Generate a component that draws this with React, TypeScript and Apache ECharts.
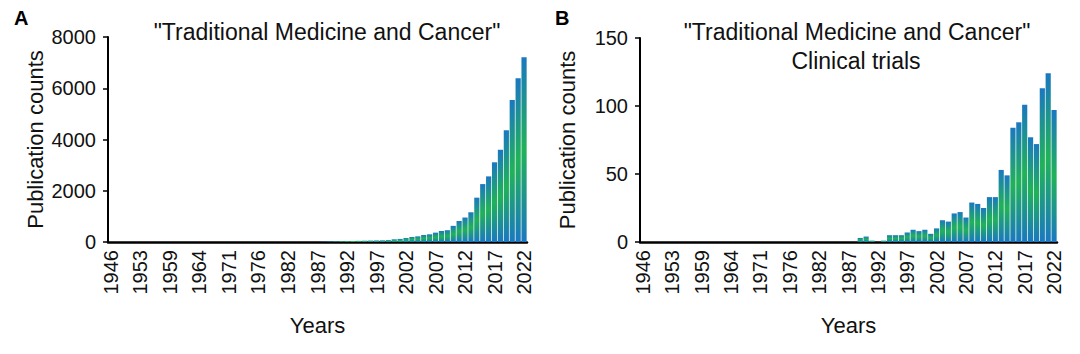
import React, { useEffect, useRef } from "react";
import * as echarts from "echarts";

const years: string[] = [
  "1946", "1947", "1948", "1950", "1951", "1953", "1954", "1955", "1956", "1958",
  "1959", "1960", "1961", "1962", "1963", "1964", "1965", "1966", "1968", "1969",
  "1971", "1972", "1973", "1974", "1975", "1976", "1977", "1978", "1979", "1981",
  "1982", "1983", "1984", "1985", "1986", "1987", "1988", "1989", "1990", "1991",
  "1992", "1993", "1994", "1995", "1996", "1997", "1998", "1999", "2000", "2001",
  "2002", "2003", "2004", "2005", "2006", "2007", "2008", "2009", "2010", "2011",
  "2012", "2013", "2014", "2015", "2016", "2017", "2018", "2019", "2020", "2021",
  "2022",
];

// Panel A: all publications (1946–1987 all zero)
const earlyZeros: number[] = [
  0, 0, 0, 0, 0, 0, 0, 0, 0, 0,
  0, 0, 0, 0, 0, 0, 0, 0, 0, 0,
  0, 0, 0, 0, 0, 0, 0, 0, 0, 0,
  0, 0, 0, 0, 0, 0,
];
const pubsFrom1988: number[] = [
  10, 20, 25, 30, 35, 40, 45, 50, 55, 60,
  65, 75, 105, 120, 155, 195, 220, 275, 300, 365,
  430, 460, 630, 820, 955, 1160, 1730, 2260, 2560, 3110,
  3600, 4360, 5540, 6390, 7210,
];
const publications: number[] = [...earlyZeros, ...pubsFrom1988];

// Panel B: clinical trials
const trialsFrom1988: number[] = [
  0, 3, 4, 1, 0, 1, 5, 5, 5, 7,
  9, 8, 9, 6, 10, 16, 15, 21, 22, 18,
  29, 28, 25, 33, 33, 53, 49, 84, 88, 101,
  77, 72, 113, 124, 97,
];
const clinicalTrials: number[] = [...earlyZeros, ...trialsFrom1988];

const yTicksA = { min: 0, max: 8000, interval: 2000 };
const yTicksB = { min: 0, max: 150, interval: 50 };

const FONT = "'Liberation Sans', Arial, Helvetica, sans-serif";
const TXT = "#111";

const barGradient = new echarts.graphic.LinearGradient(0, 0, 0, 1, [
  { offset: 0, color: "#1a78c0" },
  { offset: 0.5, color: "#21b258" },
  { offset: 1, color: "#1a78c0" },
]);

function makeXAxis(gridIndex: number) {
  return {
    type: "category",
    gridIndex,
    data: years,
    boundaryGap: true,
    name: "Years",
    nameLocation: "middle",
    nameGap: 72,
    nameTextStyle: { fontFamily: FONT, fontSize: 22, color: TXT },
    axisLine: { show: true, lineStyle: { color: "#000", width: 2.5 } },
    axisTick: { show: false },
    axisLabel: {
      interval: 4,
      rotate: 90,
      margin: 8,
      fontFamily: FONT,
      fontSize: 20,
      color: TXT,
    },
    splitLine: { show: false },
  };
}

function makeYAxis(gridIndex: number, t: { min: number; max: number; interval: number }) {
  return {
    type: "value",
    gridIndex,
    min: t.min,
    max: t.max,
    interval: t.interval,
    name: "Publication counts",
    nameLocation: "middle",
    nameGap: 62,
    nameTextStyle: { fontFamily: FONT, fontSize: 22, color: TXT },
    axisLine: { show: true, lineStyle: { color: "#000", width: 2 } },
    axisTick: { show: true, length: 5, lineStyle: { color: "#000", width: 1.5 } },
    axisLabel: {
      fontFamily: FONT,
      fontSize: 20,
      color: TXT,
      margin: 12,
      formatter: (v: number) => String(v),
    },
    splitLine: { show: false },
  };
}

function makeSeries(idx: number, data: number[]) {
  return {
    type: "bar",
    xAxisIndex: idx,
    yAxisIndex: idx,
    data,
    barCategoryGap: "12%",
    itemStyle: {
      color: barGradient,
    },
  };
}

export default function App() {
  const ref = useRef<HTMLDivElement>(null);
  useEffect(() => {
    if (!ref.current) return;
    const chart = echarts.init(ref.current, undefined, { renderer: "svg" });
    chart.setOption({
      animation: false,
      backgroundColor: "#fff",
      grid: [
        { left: 108, top: 37, width: 419, height: 205 },
        { left: 640, top: 38, width: 417, height: 204 },
      ],
      xAxis: [makeXAxis(0), makeXAxis(1)],
      yAxis: [makeYAxis(0, yTicksA), makeYAxis(1, yTicksB)],
      series: [makeSeries(0, publications), makeSeries(1, clinicalTrials)],
      graphic: [
        {
          type: "text",
          x: 14,
          y: 18,
          style: { text: "A", fontFamily: FONT, fontSize: 20, fontWeight: "bold", fill: "#000", textAlign: "left", textVerticalAlign: "middle" },
        },
        {
          type: "text",
          x: 555,
          y: 18,
          style: { text: "B", fontFamily: FONT, fontSize: 20, fontWeight: "bold", fill: "#000", textAlign: "left", textVerticalAlign: "middle" },
        },
        {
          type: "text",
          x: 327,
          y: 32,
          style: { text: '"Traditional Medicine and Cancer"', fontFamily: FONT, fontSize: 23, fill: TXT, textAlign: "center", textVerticalAlign: "middle" },
        },
        {
          type: "text",
          x: 857,
          y: 32,
          style: { text: '"Traditional Medicine and Cancer"', fontFamily: FONT, fontSize: 23, fill: TXT, textAlign: "center", textVerticalAlign: "middle" },
        },
        {
          type: "text",
          x: 856,
          y: 61,
          style: { text: "Clinical trials", fontFamily: FONT, fontSize: 23, fill: TXT, textAlign: "center", textVerticalAlign: "middle" },
        },
      ],
    });
    return () => chart.dispose();
  }, []);
  return (
    <div
      ref={ref}
      style={{ position: "fixed", left: 0, top: 0, width: 1080, height: 354, background: "#fff" }}
    />
  );
}
